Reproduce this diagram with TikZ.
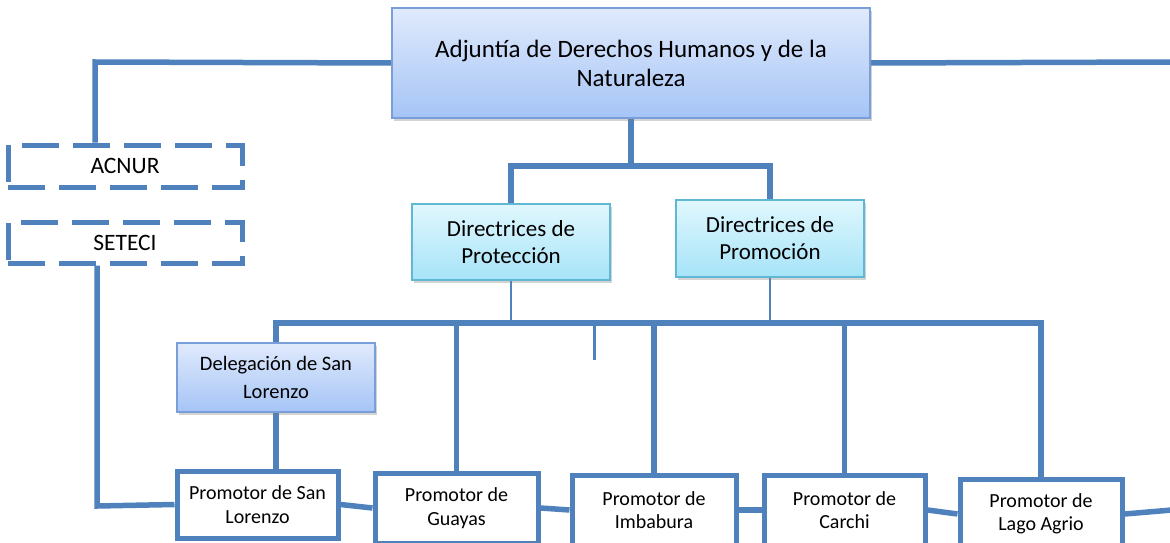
\documentclass[tikz,border=0pt]{standalone}
\usepackage{fontspec}
\setmainfont{Carlito}
\usetikzlibrary{positioning,shadows,calc,backgrounds}

\definecolor{linkblue}{HTML}{4F81BD}
\definecolor{maintop}{RGB}{224,234,252}
\definecolor{mainbot}{RGB}{165,196,246}
\definecolor{mainedge}{RGB}{122,158,218}
\definecolor{dirtop}{RGB}{224,247,253}
\definecolor{dirbot}{RGB}{166,228,248}
\definecolor{diredge}{RGB}{96,184,212}

\tikzset{
    conn/.style={draw=linkblue, line width=5.5pt},
    thinconn/.style={draw=linkblue, line width=1.4pt},
    mainbox/.style={draw=mainedge, line width=1.4pt, top color=maintop, bottom color=mainbot,
        align=center, inner sep=0pt, drop shadow={opacity=0.35, shadow xshift=2pt, shadow yshift=-3pt}},
    dirbox/.style={draw=diredge, line width=1.4pt, top color=dirtop, bottom color=dirbot,
        align=center, inner sep=0pt, drop shadow={opacity=0.35, shadow xshift=2pt, shadow yshift=-3pt}},
    dashbox/.style={draw=linkblue, line width=5pt, dash pattern=on 37pt off 14pt,
        align=center, inner sep=0pt, fill=white},
    promobox/.style={draw=linkblue, line width=5pt, fill=white, align=center, inner sep=0pt,
        minimum height=70pt, font=\fontsize{20}{23.5}\selectfont}
}

\begin{document}
\begin{tikzpicture}[x=1pt,y=-1pt]
    \useasboundingbox (0,0) rectangle (1170,543);

    % boxes
    \node [mainbox, minimum width=478pt, minimum height=110pt, font=\fontsize{25}{29}\selectfont]
        (main) at (631,63) {Adjuntía de Derechos Humanos y de la\\Naturaleza};
    \node [dashbox, minimum width=234pt, minimum height=42pt, font=\fontsize{23.5}{26}\selectfont]
        (acnur) at (125,166) {ACNUR};
    \node [dashbox, minimum width=234pt, minimum height=41pt, font=\fontsize{23.5}{26}\selectfont]
        (seteci) at (125,242.5) {SETECI};
    \node [dirbox, minimum width=198pt, minimum height=76pt, font=\fontsize{23}{27}\selectfont]
        (prot) at (511,242) {Directrices de\\Protección};
    \node [dirbox, minimum width=188pt, minimum height=77pt, font=\fontsize{23}{27}\selectfont]
        (prom) at (770,238.5) {Directrices de\\Promoción};
    \node [mainbox, minimum width=198pt, minimum height=69pt, font=\fontsize{20.5}{28}\selectfont]
        (deleg) at (276,377.5) {Delegación de San\\Lorenzo};

    \node [promobox, minimum width=161pt, minimum height=67pt] (psl) at (257.5,504.5) {Promotor de San\\Lorenzo};
    \node [promobox, minimum width=163pt] (pgu) at (456.5,508) {Promotor de\\Guayas};
    \node [promobox, minimum width=164pt] (pim) at (654,510) {Promotor de\\Imbabura};
    \node [promobox, minimum width=161pt] (pca) at (844.5,510) {Promotor de\\Carchi};
    \node [promobox, minimum width=162pt] (pla) at (1041,514) {Promotor de\\Lago Agrio};

    % bends and free ends
    \coordinate (lt) at (95,62);
    \coordinate (lb) at (97,506);
    \coordinate (rt) at (1172,62);
    \coordinate (rb) at (1172,510);
    \coordinate (split) at (631,166);
    \coordinate (busL) at (276,323);
    \coordinate (busR) at (1041,323);
    \coordinate (tick) at (594,360);

    \begin{scope}[on background layer]
        \draw [conn] (main.west) -- (lt) -- (lt |- acnur.north);
        \draw [conn] (main.east) -- (rt);
        \draw [conn] (lb |- seteci.south) -- (lb) -- (psl.west);
        \draw [conn] (main.south) -- (split);
        \draw [conn] (prot.north) |- (split) -| (prom.north);
        \draw [thinconn] (prot.south) -- (prot.south |- busL);
        \draw [thinconn] (prom.south) -- (prom.south |- busL);
        \draw [conn] (deleg.north) -- (busL) -- (busR) -- (pla.north);
        \draw [conn] (deleg.south) -- (deleg.south |- psl.north);
        \foreach \n in {pgu,pim,pca}
            \draw [conn] (\n.north |- busL) -- (\n.north);
        \draw [draw=linkblue, line width=3pt] (tick |- busL) -- (tick);
        \draw [conn] (psl.east) -- (pgu.west);
        \draw [conn] (pgu.east) -- (pim.west);
        \draw [conn] (pim.east) -- (pca.west);
        \draw [conn] (pca.east) -- (pla.west);
        \draw [conn] (pla.east) -- (rb);
    \end{scope}
\end{tikzpicture}
\end{document}
